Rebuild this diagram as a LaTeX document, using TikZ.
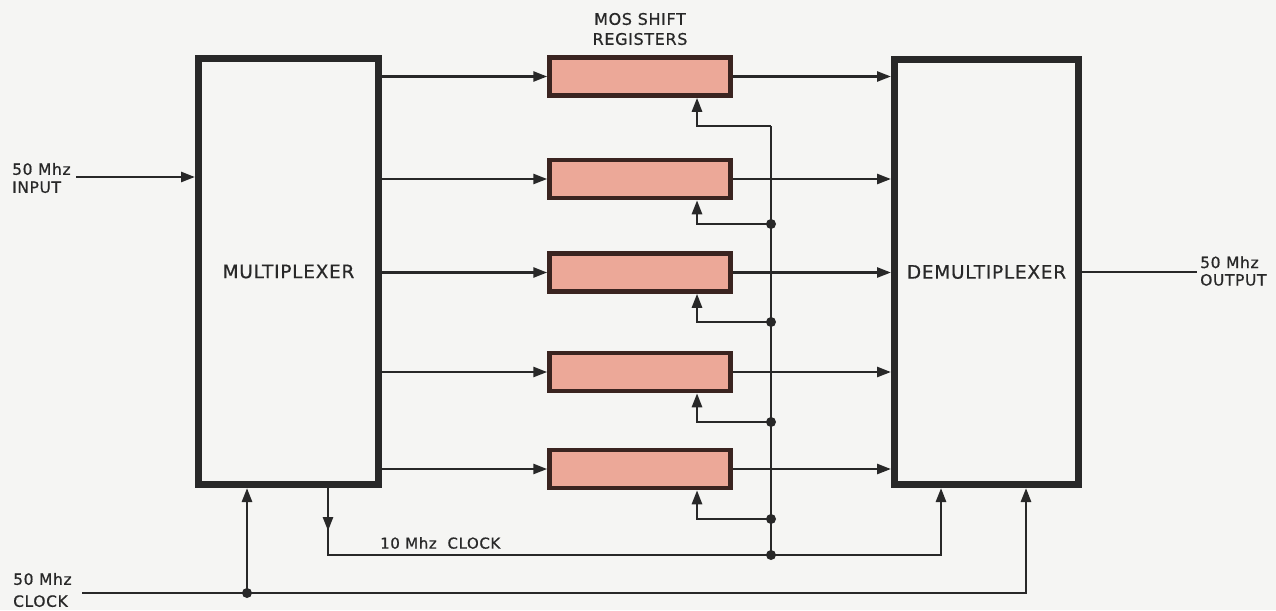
\documentclass[tikz,border=0pt]{standalone}
\usepackage{fontspec}
\setmainfont{DejaVu Sans}
\newfontfamily\labfont[LetterSpace=4,FakeBold=0.6]{DejaVu Sans}
\usetikzlibrary{arrows.meta,calc}
\definecolor{ink}{RGB}{40,40,40}
\definecolor{regfill}{RGB}{236,168,152}
\definecolor{regborder}{RGB}{58,36,32}
\definecolor{paper}{RGB}{245,245,243}
\begin{document}
\begin{tikzpicture}[x=1pt,y=-1pt,
  wire/.style={draw=ink,line width=2.7pt},
  arr/.style={wire,-{Triangle[length=14pt,width=10pt]}},
  bigbox/.style={draw=ink,line width=7pt,inner sep=0pt,font=\labfont\fontsize{18.5}{20}\selectfont,text=ink},
  reg/.style={draw=regborder,line width=4.5pt,fill=regfill,minimum width=181pt,minimum height=38pt,inner sep=0pt},
  lbl/.style={font=\labfont\fontsize{15.5}{18}\selectfont,text=ink,inner sep=0pt,align=left},
  jdot/.style={circle,fill=ink,inner sep=0pt,minimum size=10pt}
]
\fill[paper] (0,0) rectangle (1276,610);
\useasboundingbox (0,0) rectangle (1276,610);

% main boxes
\node[bigbox,minimum width=180pt,minimum height=426pt] (mux) at (288.5,271.5) {MULTIPLEXER};
\node[bigbox,minimum width=184pt,minimum height=425pt] (demux) at (986.5,272) {DEMULTIPLEXER};

% shift registers
\node[reg] (r1) at (640,76.5) {};
\node[reg] (r2) at (640,179) {};
\node[reg] (r3) at (640,272.5) {};
\node[reg] (r4) at (640,372) {};
\node[reg] (r5) at (640,469) {};

\node[lbl,align=center,font=\labfont\fontsize{16}{20}\selectfont] (moslbl) at (640,29) {MOS SHIFT\\REGISTERS};

% data paths
\foreach \r in {r1,r2,r3,r4,r5}{
  \draw[arr] (mux.east |- \r.west) -- (\r.west);
  \draw[arr] (\r.east) -- (demux.west |- \r.east);
}

% clock bus coordinates
\coordinate (f1) at (771,126);
\coordinate (f2) at (771,224);
\coordinate (f3) at (771,322);
\coordinate (f4) at (771,422);
\coordinate (f5) at (771,519);
\coordinate (c10) at (771,555);
\coordinate (x10) at (328,555);
\coordinate (d10) at (941,555);
\coordinate (clkin) at (82,593);
\coordinate (j50) at (247,593);
\coordinate (d50) at (1026,593);

% register clock feeds
\foreach \i in {1,...,5}{
  \draw[arr] (f\i) -| ($(r\i.south)+(57,0)$);
}
\draw[wire] (f1) -- (c10);
\foreach \i in {2,...,5}{
  \node[jdot] (jd\i) at (f\i) {};
}
\node[jdot] (jc10) at (c10) {};

% 10 MHz clock
\draw[arr] (mux.south -| x10) -- ++(0,43);
\draw[wire] (mux.south -| x10) -- (x10) -- (c10);
\draw[arr] (c10) -- (d10) -- (demux.south -| d10);
\node[lbl,anchor=west,font=\labfont\fontsize{15}{16}\selectfont] (clk10) at (380,543) {10 Mhz\ \ CLOCK};

% 50 MHz clock
\draw[wire] (clkin) -- (j50);
\draw[arr] (j50) -- (mux.south -| j50);
\draw[arr] (j50) -- (d50) -- (demux.south -| d50);
\node[jdot] (j50d) at (j50) {};
\node[lbl,anchor=west,font=\labfont\fontsize{15.5}{22}\selectfont] (clk50) at (13,590) {50 Mhz\\CLOCK};

% input / output
\coordinate (in) at (76,177);
\coordinate (out) at (1197,272);
\draw[arr] (in) -- (mux.west |- in);
\node[lbl,anchor=west] (inlbl) at (12,178) {50 Mhz\\INPUT};
\draw[wire] (demux.east |- out) -- (out);
\node[lbl,anchor=west,font=\labfont\fontsize{15.5}{17.5}\selectfont] (outlbl) at (1200,271) {50 Mhz\\OUTPUT};
\end{tikzpicture}
\end{document}
